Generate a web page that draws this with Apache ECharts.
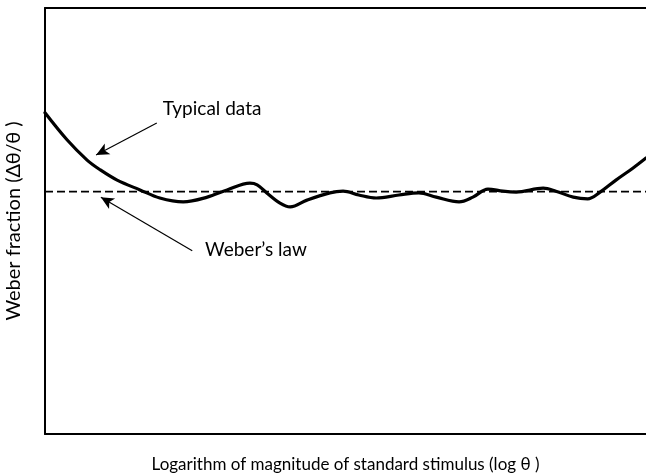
<!DOCTYPE html>
<html>
<head>
<meta charset="utf-8">
<script src="https://cdn.jsdelivr.net/npm/echarts@6/dist/echarts.min.js"></script>
<style>
  html, body { margin: 0; padding: 0; background: #ffffff; }
  #chart { width: 646px; height: 475px; }
</style>
</head>
<body>
<div id="chart"></div>
<script>
// log magnitude of the standard stimulus (x) and the measured Weber fraction (y)
const logTheta = [0, 0.37, 0.70, 0.92, 1.20, 1.58, 1.91, 2.30, 2.70, 3.03, 3.41, 3.53, 3.69, 3.91, 4.08, 4.36, 4.74,
  4.96, 5.22, 5.51, 5.89, 6.22, 6.51, 6.89, 7.12, 7.37, 7.62, 7.84, 8.29, 8.50, 8.79, 9.03, 9.22, 9.50, 9.78, 10];
const weberFraction = [0.754, 0.690, 0.643, 0.620, 0.596, 0.573, 0.554, 0.545, 0.556, 0.573, 0.589, 0.585, 0.566,
  0.542, 0.533, 0.549, 0.566,
  0.570, 0.561, 0.554, 0.561, 0.566, 0.556, 0.545, 0.556, 0.575, 0.570, 0.568, 0.577, 0.570, 0.556, 0.552,
  0.566, 0.596, 0.624, 0.648];
// constant Weber fraction predicted by Weber's law
const lawX = [0, 10];
const lawY = [0.569, 0.569];

const FONT = 'Lato';
const black = '#000000';

const chart = echarts.init(document.getElementById('chart'), null, { renderer: 'canvas' });

chart.setOption({
  backgroundColor: '#ffffff',
  animation: false,
  grid: { left: 45, right: 0, top: 8, bottom: 41, containLabel: false, outerBoundsMode: 'none' },
  xAxis: [
    {
      type: 'value', min: 0, max: 10, position: 'bottom',
      name: 'Logarithm of magnitude of standard stimulus (log θ )',
      nameLocation: 'middle', nameGap: 22,
      nameTextStyle: { fontFamily: FONT, fontSize: 17, color: black },
      axisLine: { show: true, onZero: false, lineStyle: { color: black, width: 2 } },
      axisTick: { show: false }, axisLabel: { show: false }, splitLine: { show: false }
    },
    {
      type: 'value', min: 0, max: 10, position: 'top',
      axisLine: { show: true, onZero: false, lineStyle: { color: black, width: 2 } },
      axisTick: { show: false }, axisLabel: { show: false }, splitLine: { show: false }
    }
  ],
  yAxis: {
    type: 'value', min: 0, max: 1,
    name: 'Weber fraction (Δθ/θ )',
    nameLocation: 'middle', nameGap: 21, nameRotate: 90,
    nameTextStyle: { fontFamily: FONT, fontSize: 20, color: black },
    axisLine: { show: true, onZero: false, lineStyle: { color: black, width: 2 } },
    axisTick: { show: false }, axisLabel: { show: false }, splitLine: { show: false }
  },
  series: [
    {
      name: "Weber's law",
      type: 'line',
      data: lawX.map((x, i) => [x, lawY[i]]),
      symbol: 'none',
      lineStyle: { color: black, width: 1.6, type: [8, 4] },
      z: 2
    },
    {
      name: 'Typical data',
      type: 'line',
      data: logTheta.map((x, i) => [x, weberFraction[i]]),
      symbol: 'none',
      smooth: 0.35,
      lineStyle: { color: black, width: 3.2, cap: 'round', join: 'round' },
      z: 3,
      markLine: {
        silent: true,
        symbol: ['none', 'arrow'],
        symbolSize: [9, 13],
        label: { show: false },
        lineStyle: { color: black, width: 1.2, type: 'solid' },
        data: [
          [{ coord: [1.86, 0.730] }, { coord: [0.85, 0.655] }],
          [{ coord: [2.45, 0.430] }, { coord: [0.93, 0.556] }]
        ]
      },
      markPoint: {
        silent: true,
        symbol: 'circle',
        symbolSize: 0,
        label: {
          show: true, position: 'inside',
          fontFamily: FONT, fontSize: 19, color: black,
          formatter: p => p.name
        },
        data: [
          { name: 'Typical data', coord: [2.78, 0.763] },
          { name: 'Weber’s law', coord: [3.51, 0.432] }
        ]
      }
    }
  ]
});
</script>
</body>
</html>
